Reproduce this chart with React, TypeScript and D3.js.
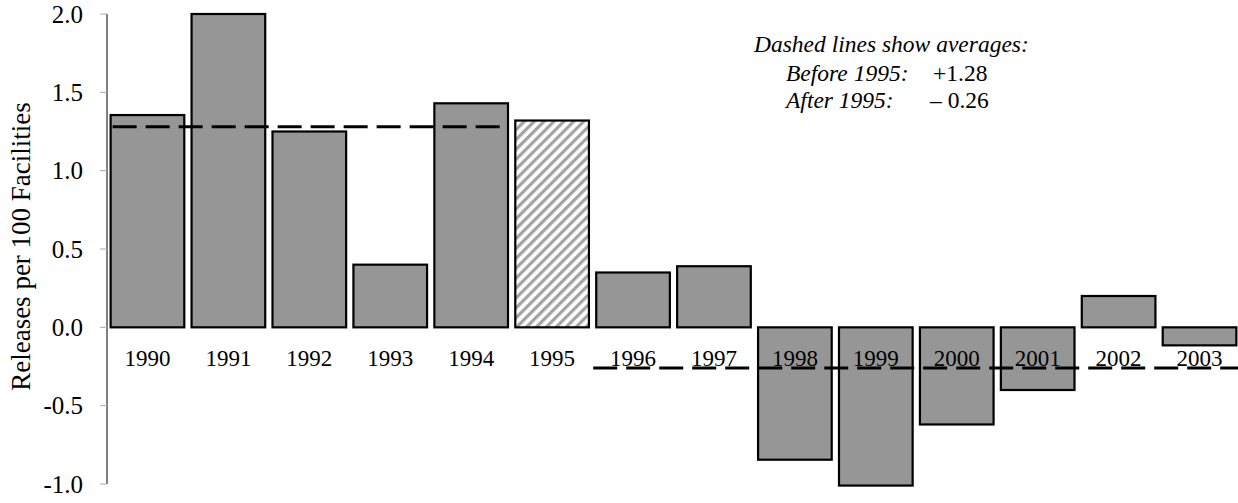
import React from "react";
import * as d3 from "d3";

const years = ["1990","1991","1992","1993","1994","1995","1996","1997","1998","1999","2000","2001","2002","2003"];
const values = [1.355, 2.0, 1.25, 0.40, 1.43, 1.32, 0.35, 0.39, -0.845, -1.01, -0.62, -0.40, 0.20, -0.115];
const hatchedYears = ["1995"];
const yTicks = [2.0, 1.5, 1.0, 0.5, 0.0, -0.5, -1.0];
const avgBefore = 1.28;
const avgAfter = -0.26;
const yLabel = "Releases per 100 Facilities";
const noteTitle = "Dashed lines show averages:";
const noteLines = [
  { label: "Before 1995:", value: "+1.28" },
  { label: "After 1995:", value: "\u2013 0.26" },
];

const W = 1238;
const H = 503;
const FONT = "'Liberation Serif', 'Times New Roman', serif";

export default function App() {
  const x = d3.scaleBand<string>().domain(years).range([107, 1240]).paddingInner(0.09).paddingOuter(0.045);
  const y = d3.scaleLinear().domain([-1, 2]).range([484, 14]);
  const bw = x.bandwidth();
  const y0 = y(0);

  return (
    <svg width={W} height={H} style={{ position: "absolute", left: 0, top: 0, display: "block", background: "#fff" }}>
      <defs>
        <pattern id="hatch" patternUnits="userSpaceOnUse" width={7} height={7} patternTransform="rotate(45)">
          <rect width={7} height={7} fill="#ffffff" />
          <rect x={0} y={0} width={3.2} height={7} fill="#a3a3a3" />
        </pattern>
      </defs>
      {/* y axis */}
      <line x1={107} x2={107} y1={y(2)} y2={y(-1)} stroke="#000" strokeWidth={1} />
      {yTicks.map((t) => (
        <g key={t}>
          <line x1={100} x2={107} y1={y(t)} y2={y(t)} stroke="#aaa" strokeWidth={1} />
          <text x={83} y={y(t)} dy="0.35em" textAnchor="end" fontFamily={FONT} fontSize={25} fill="#000">
            {t.toFixed(1)}
          </text>
        </g>
      ))}
      <text
        transform={`translate(30,246.5) rotate(-90)`}
        textAnchor="middle"
        fontFamily={FONT}
        fontSize={27}
        fill="#000"
      >
        {yLabel}
      </text>
      {/* bars */}
      {years.map((yr, i) => {
        const v = values[i];
        const top = Math.min(y(v), y0);
        const h = Math.abs(y(v) - y0);
        const hatched = hatchedYears.includes(yr);
        return (
          <rect
            key={yr}
            x={x(yr)!}
            y={top}
            width={bw}
            height={h}
            fill={hatched ? "url(#hatch)" : "#969696"}
            stroke="#000"
            strokeWidth={2.2}
          />
        );
      })}
      {/* category labels */}
      {years.map((yr) => (
        <text key={yr} x={x(yr)! + bw / 2} y={366} textAnchor="middle" fontFamily={FONT} fontSize={23} fill="#000">
          {yr}
        </text>
      ))}
      {/* average lines */}
      <line
        x1={x("1990")! + 2}
        x2={x("1994")! + bw - 8}
        y1={y(avgBefore)}
        y2={y(avgBefore)}
        stroke="#000"
        strokeWidth={3}
        strokeDasharray="24 9"
      />
      <line
        x1={x("1996")! - 3}
        x2={1238}
        y1={y(avgAfter)}
        y2={y(avgAfter)}
        stroke="#000"
        strokeWidth={3}
        strokeDasharray="24 9"
      />
      {/* note */}
      <text x={754} y={52} fontFamily={FONT} fontSize={23.5} fontStyle="italic" fill="#000">
        {noteTitle}
      </text>
      {noteLines.map((n, i) => (
        <g key={n.label}>
          <text x={786} y={81 + i * 27} fontFamily={FONT} fontSize={23.5} fontStyle="italic" fill="#000">
            {n.label}
          </text>
          <text x={i === 0 ? 933 : 930} y={81 + i * 27} fontFamily={FONT} fontSize={23.5} fill="#000">
            {n.value}
          </text>
        </g>
      ))}
    </svg>
  );
}
